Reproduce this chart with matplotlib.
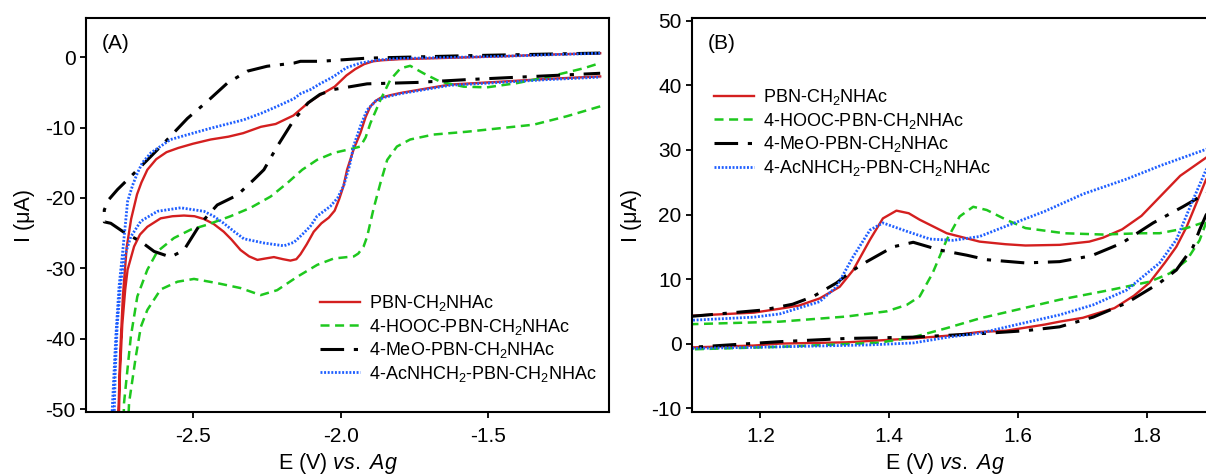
import numpy as np
import matplotlib
matplotlib.use("Agg")
import matplotlib.pyplot as plt

plt.rcParams['font.family'] = ['Liberation Sans', 'DejaVu Sans']
plt.rcParams['mathtext.fontset'] = 'custom'
plt.rcParams['mathtext.rm'] = 'Liberation Sans'
plt.rcParams['mathtext.it'] = 'Liberation Sans:italic'
plt.rcParams['axes.unicode_minus'] = False
plt.rcParams['lines.scale_dashes'] = False

labels = ['PBN-CH$_2$NHAc', '4-HOOC-PBN-CH$_2$NHAc',
          '4-MeO-PBN-CH$_2$NHAc', '4-AcNHCH$_2$-PBN-CH$_2$NHAc']

# ---- Panel A: reduction scans (E in V, I in uA), each a closed loop ----
red_a_E = [-1.12, -1.30, -1.46, -1.63, -1.80, -1.86, -1.89, -1.92, -1.95, -1.98, -2.02, -2.07,
           -2.11, -2.16, -2.22, -2.27, -2.33, -2.38, -2.44, -2.50, -2.55, -2.59, -2.625, -2.655,
           -2.675, -2.69, -2.71, -2.725, -2.738, -2.747, -2.752, -2.755,
           -2.752, -2.748, -2.74, -2.73, -2.722, -2.70, -2.68, -2.655, -2.61, -2.57, -2.531,
           -2.495, -2.463, -2.43, -2.396, -2.37, -2.339, -2.31, -2.282, -2.255, -2.226, -2.195,
           -2.17, -2.15, -2.136, -2.115, -2.091, -2.065, -2.04, -2.02, -2.005, -1.99, -1.978,
           -1.955, -1.933, -1.915, -1.899, -1.88, -1.865, -1.83, -1.797, -1.70, -1.628, -1.459,
           -1.30, -1.12]
red_a_I = [0.55, 0.35, 0.1, -0.1, -0.3, -0.45, -0.6, -1.0, -1.7, -2.6, -4.2, -5.4,
           -6.5, -8.3, -9.5, -9.9, -10.8, -11.3, -11.7, -12.3, -12.9, -13.5, -14.5, -16.0,
           -17.8, -19.5, -23.0, -27.0, -34.0, -42.0, -49.0, -52.0,
           -52.0, -45.0, -38.0, -33.0, -30.2, -26.9, -25.2, -24.1, -22.9, -22.6, -22.5,
           -22.6, -23.0, -23.7, -24.8, -25.9, -27.4, -28.3, -28.8, -28.6, -28.4, -28.7,
           -28.9, -28.7, -28.0, -26.6, -24.8, -23.6, -22.8, -21.8, -20.2, -18.3, -16.0,
           -13.0, -10.8, -8.5, -7.0, -6.2, -5.8, -5.4, -5.1, -4.4, -3.9, -3.5,
           -3.1, -2.75]

green_a_E = [-1.12, -1.233, -1.346, -1.459, -1.572, -1.685, -1.764, -1.809, -1.842, -1.865,
             -1.888, -1.91, -1.922, -1.94, -1.955, -2.023, -2.079, -2.147, -2.215, -2.271, -2.339,
             -2.418, -2.497, -2.553, -2.61, -2.655, -2.677, -2.694, -2.717, -2.72,
             -2.736, -2.734, -2.711, -2.689, -2.655, -2.621, -2.565, -2.508, -2.452, -2.373,
             -2.305, -2.237, -2.181, -2.13, -2.08, -2.023, -1.96, -1.933, -1.915, -1.899, -1.865,
             -1.831, -1.797, -1.764, -1.719, -1.662, -1.583, -1.504, -1.403, -1.29, -1.177, -1.12]
green_a_I = [-7.0, -8.4, -9.6, -10.1, -10.6, -11.0, -11.7, -12.7, -14.6, -17.9,
             -21.5, -25.5, -26.9, -27.9, -28.3, -28.6, -29.5, -31.2, -33.1, -33.8, -32.8,
             -32.1, -31.5, -31.9, -33.0, -35.9, -38.3, -42.5, -49.1, -52.0,
             -52.0, -49.1, -39.7, -34.0, -30.2, -27.6, -25.7, -24.5, -23.8, -22.6,
             -21.4, -19.8, -17.9, -16.0, -14.6, -13.6, -13.0, -12.7, -11.4, -9.4, -6.1,
             -3.2, -1.6, -1.24, -2.3, -3.5, -4.2, -4.3, -3.7, -2.75, -1.6, -0.85]

black_a_E = [-1.12, -1.57, -1.91, -2.068, -2.136, -2.158, -2.249, -2.316, -2.384, -2.452,
             -2.519, -2.587, -2.643, -2.70, -2.756, -2.785, -2.801, -2.801, -2.779, -2.73,
             -2.677, -2.632, -2.576, -2.531, -2.474, -2.418, -2.35, -2.294, -2.26, -2.215,
             -2.158, -2.11, -2.07, -2.023, -1.91, -1.741, -1.572, -1.346, -1.12]
black_a_I = [0.57, 0.2, -0.15, -0.6, -0.6, -0.85, -1.3, -2.0, -3.7, -6.3,
             -8.7, -11.7, -14.1, -16.5, -18.8, -20.2, -21.7, -23.4, -23.6, -25.0,
             -26.2, -27.6, -28.4, -27.4, -23.6, -21.0, -19.6, -17.4, -16.0, -12.7,
             -8.9, -6.5, -5.3, -4.6, -3.8, -3.6, -3.2, -2.75, -2.3]

blue_a_E = [-1.12, -1.46, -1.80, -1.87, -1.933, -1.98, -2.023, -2.07, -2.102, -2.136, -2.158,
            -2.215, -2.27, -2.328, -2.44, -2.50, -2.576, -2.643, -2.672, -2.689, -2.705,
            -2.722, -2.728, -2.739, -2.751, -2.762, -2.773, -2.776,
            -2.768, -2.764, -2.757, -2.745, -2.73, -2.711, -2.677, -2.621, -2.542, -2.463,
            -2.43, -2.396, -2.36, -2.328, -2.26, -2.192, -2.158, -2.13, -2.102, -2.08, -2.035,
            -2.01, -1.989, -1.97, -1.955, -1.93, -1.91, -1.88, -1.85, -1.797, -1.628, -1.459,
            -1.30, -1.12]
blue_a_I = [0.55, 0.1, -0.2, -0.4, -0.85, -1.5, -2.75, -3.8, -4.6, -5.2, -5.9,
            -7.0, -8.0, -8.9, -10.1, -10.8, -11.7, -13.6, -15.0, -16.5, -18.2,
            -20.5, -23.1, -27.8, -32.6, -39.7, -49.1, -52.0,
            -52.0, -45.0, -38.0, -32.0, -28.0, -25.5, -23.3, -21.9, -21.4, -21.9,
            -22.6, -23.6, -24.8, -25.8, -26.4, -26.8, -26.3, -25.2, -24.0, -22.6, -21.2,
            -20.0, -18.2, -15.5, -12.5, -9.5, -7.5, -6.2, -5.7, -5.2, -4.0, -3.6,
            -3.2, -2.85]

# ---- Panel B: oxidation scans ----
red_b_E = [1.09, 1.19, 1.23, 1.26, 1.292, 1.323, 1.344, 1.37, 1.39, 1.411, 1.43, 1.447,
           1.489, 1.54, 1.58, 1.611, 1.664, 1.71, 1.731, 1.761, 1.791, 1.821, 1.851, 1.891, 1.92,
           1.92, 1.891, 1.875, 1.861, 1.845, 1.827, 1.803, 1.779, 1.749, 1.70, 1.664, 1.641,
           1.581, 1.54, 1.50, 1.437, 1.334, 1.23, 1.19, 1.09]
red_b_I = [4.3, 4.8, 5.4, 5.9, 7.0, 8.8, 11.4, 16.1, 19.4, 20.6, 20.2, 19.2,
           17.1, 15.8, 15.4, 15.2, 15.3, 15.8, 16.4, 17.7, 19.8, 22.9, 26.0, 28.8, 31.0,
           30.0, 25.4, 21.5, 18.1, 15.0, 12.5, 9.4, 7.4, 5.5, 4.0, 3.4, 2.95,
           2.0, 1.8, 1.3, 0.8, 0.2, 0.0, -0.3, -0.6]

green_b_E = [1.09, 1.23, 1.334, 1.396, 1.427, 1.447, 1.467, 1.489, 1.509, 1.53, 1.551, 1.581,
             1.611, 1.671, 1.731, 1.791, 1.819, 1.861, 1.891, 1.92,
             1.92, 1.891, 1.881, 1.861, 1.835, 1.804, 1.742, 1.664, 1.60, 1.54, 1.489, 1.437,
             1.385, 1.23, 1.09]
green_b_I = [3.0, 3.4, 4.2, 5.0, 6.0, 7.3, 10.9, 16.1, 19.7, 21.2, 20.7, 19.2,
             17.9, 17.1, 16.9, 17.1, 17.1, 17.9, 18.9, 20.0,
             21.0, 18.7, 16.0, 12.9, 10.9, 9.6, 8.3, 6.8, 5.3, 3.9, 2.4, 1.0,
             0.15, -0.5, -0.9]

black_b_E = [1.09, 1.204, 1.25, 1.282, 1.318, 1.344, 1.365, 1.406, 1.437, 1.478, 1.52, 1.551,
             1.611, 1.664, 1.713, 1.742, 1.761, 1.809, 1.855, 1.886, 1.92,
             1.92, 1.891, 1.881, 1.871, 1.845, 1.819, 1.768, 1.716, 1.664, 1.611, 1.551,
             1.437, 1.334, 1.23, 1.09]
black_b_I = [4.2, 5.2, 6.1, 7.3, 9.4, 11.4, 12.7, 15.0, 15.7, 14.5, 13.7, 13.0,
             12.5, 12.7, 13.6, 14.8, 15.6, 18.7, 21.2, 23.0, 24.5,
             24.0, 19.9, 17.6, 15.0, 11.4, 9.4, 6.3, 4.1, 2.6, 2.0, 1.6,
             1.0, 0.8, 0.3, -0.6]

blue_b_E = [1.09, 1.19, 1.23, 1.292, 1.318, 1.344, 1.37, 1.39, 1.427, 1.463, 1.499, 1.54,
            1.581, 1.641, 1.701, 1.768, 1.821, 1.891, 1.92,
            1.92, 1.891, 1.871, 1.845, 1.819, 1.768, 1.716, 1.664, 1.60, 1.54, 1.491, 1.437,
            1.37, 1.23, 1.09]
blue_b_I = [3.6, 4.1, 4.6, 6.5, 8.8, 13.5, 17.6, 18.7, 17.4, 16.2, 16.0, 16.6,
            18.2, 20.5, 23.2, 25.5, 27.6, 30.1, 31.2,
            31.0, 26.9, 22.3, 16.1, 12.5, 8.3, 6.0, 4.45, 3.0, 1.6, 1.0, 0.1,
            -0.2, -0.5, -0.75]

styles = [dict(color='#d41f1f', lw=1.7, ls='-'),
          dict(color='#1ec81e', lw=1.8, dashes=(6.5, 4)),
          dict(color='black', lw=2.2, dashes=(17, 7, 3, 7)),
          dict(color='#1f5fff', lw=2.0, dashes=(1.4, 1.2))]

fig = plt.figure(figsize=(12.06, 4.75), dpi=100)
axA = fig.add_axes([0.0713, 0.1326, 0.4337, 0.8295])
axB = fig.add_axes([0.5738, 0.1326, 0.4262, 0.8295])

data_a = [(red_a_E, red_a_I), (green_a_E, green_a_I), (black_a_E, black_a_I), (blue_a_E, blue_a_I)]
data_b = [(red_b_E, red_b_I), (green_b_E, green_b_I), (black_b_E, black_b_I), (blue_b_E, blue_b_I)]

for (e, i), st, lab in zip(data_a, styles, labels):
    axA.plot(e, i, label=lab, solid_joinstyle='round', dash_joinstyle='round', **st)
for (e, i), st, lab in zip(data_b, styles, labels):
    axB.plot(e, i, label=lab, solid_joinstyle='round', dash_joinstyle='round', **st)

axA.set_xlim(-2.863, -1.09)
axA.set_ylim(-50.4, 5.55)
axA.set_xticks([-2.5, -2.0, -1.5])
axA.set_yticks(np.arange(-50, 1, 10))

axB.set_xlim(1.094, 1.891)
axB.set_ylim(-10.6, 50.45)
axB.set_xticks([1.2, 1.4, 1.6, 1.8])
axB.set_yticks(np.arange(-10, 51, 10))
axB.spines['right'].set_visible(False)

for ax in (axA, axB):
    for s in ax.spines.values():
        s.set_linewidth(1.5)
    ax.tick_params(direction='out', length=4.5, width=1.3, labelsize=15, pad=3)
    ax.tick_params(axis='x', pad=6)
    ax.set_ylabel('I (\u03bcA)', fontsize=15.5)
    ax.set_xlabel('E (V) $\\mathit{vs.}$ $\\mathit{Ag}$', fontsize=15.5)
    ax.yaxis.set_label_coords(-0.097, 0.5)

axA.xaxis.set_label_coords(0.482, -0.1)
axB.xaxis.set_label_coords(0.492, -0.1)

axA.legend(loc='upper left', bbox_to_anchor=(0.2653, 0.3832), bbox_transform=fig.transFigure,
           frameon=False, borderpad=0, borderaxespad=0, handlelength=2.2, handletextpad=0.5,
           labelspacing=0.2, fontsize=13)
axB.legend(loc='upper left', bbox_to_anchor=(0.592, 0.8168), bbox_transform=fig.transFigure,
           frameon=False, borderpad=0, borderaxespad=0, handlelength=2.2, handletextpad=0.5,
           labelspacing=0.2, fontsize=13)

fig.text(0.0843, 0.9074, '(A)', fontsize=15, ha='left', va='center')
fig.text(0.587, 0.9074, '(B)', fontsize=15, ha='left', va='center')

fig.savefig('out.png', dpi=100)
